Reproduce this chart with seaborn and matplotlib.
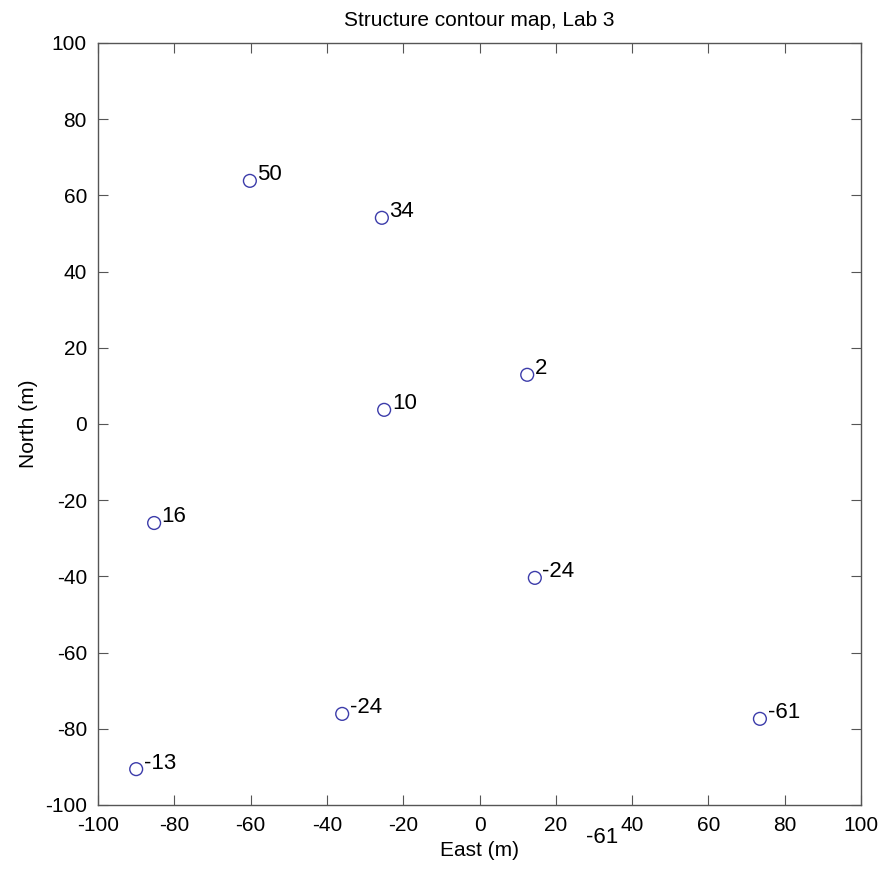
"""
Structure contour map, Lab 3 — posted elevations at well locations.
"""

import matplotlib
matplotlib.use("Agg")
import matplotlib.pyplot as plt
import pandas as pd
import seaborn as sns

sns.set_style("ticks")
plt.rcParams.update({
    "font.family": ["Liberation Sans", "DejaVu Sans"],
    "font.size": 15,
    "text.color": "black",
    "axes.labelcolor": "black",
    "xtick.labelcolor": "black", "ytick.labelcolor": "black",
    "axes.unicode_minus": False,
    "xtick.direction": "in", "ytick.direction": "in",
    "xtick.top": True, "ytick.right": True,
})

east = [-60.2, -25.6, 12.5, -25.0, -85.3, 14.5, -36.0, -90.0, 73.5]
north = [63.8, 54.1, 12.9, 3.7, -26.0, -40.4, -76.1, -90.6, -77.4]
elev = [50, 34, 2, 10, 16, -24, -24, -13, -61]

# stray label sitting outside the axes
stray_label = "-61"
stray_pos = (27.8, -108.6)

df = pd.DataFrame({"east": east, "north": north, "elev": elev})

fig = plt.figure(figsize=(8.84, 8.69), dpi=100)
ax = fig.add_axes([0.1109, 0.0737, 0.8631, 0.8769])

sns.scatterplot(data=df, x="east", y="north", ax=ax, marker="o", s=85,
                facecolors="none", edgecolor="#3c3caa", linewidth=1.0,
                legend=False)

for _, r in df.iterrows():
    ax.text(r["east"] + 2.0, r["north"] + 1.6, f"{r['elev']:.0f}",
            fontsize=16, ha="left", va="center")

ax.text(*stray_pos, stray_label, fontsize=16, ha="left", va="center",
        clip_on=False)

ax.set_xlim(-100, 100)
ax.set_ylim(-100, 100)
ax.set_xticks(range(-100, 101, 20))
ax.set_yticks(range(-100, 101, 20))
ax.tick_params(length=7, width=0.8, color="#555555", labelsize=15, pad=8)
for s in ax.spines.values():
    s.set_color("#555555")
    s.set_linewidth(1.0)

ax.set_xlabel("East (m)", fontsize=15, labelpad=4)
ax.set_ylabel("North (m)", fontsize=15, labelpad=5)
ax.set_title("Structure contour map, Lab 3", fontsize=15, pad=12)

fig.savefig("out.png", dpi=100)
plt.close(fig)
